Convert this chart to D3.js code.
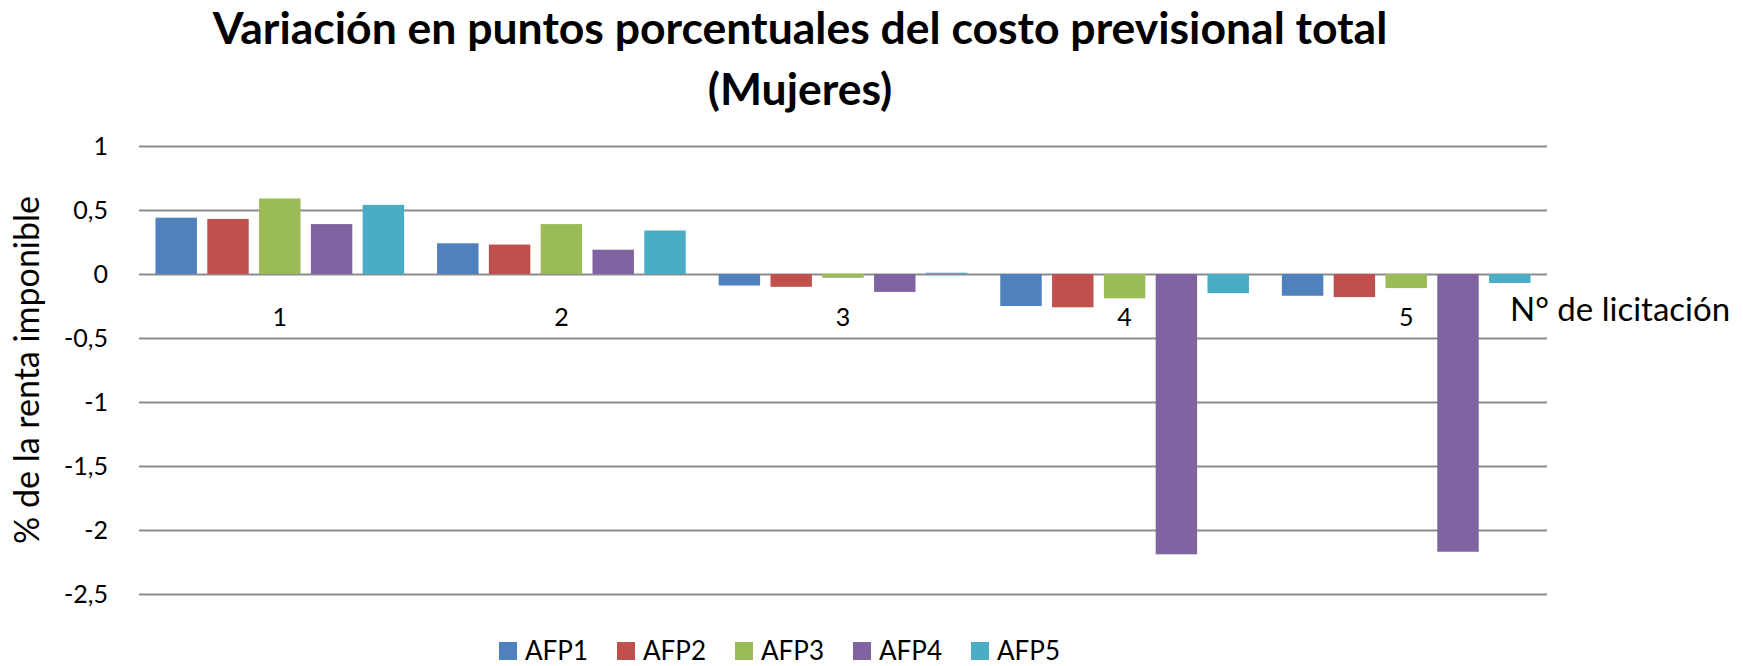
<!DOCTYPE html>
<html>
<head>
<meta charset="utf-8">
<script src="https://cdn.jsdelivr.net/npm/d3@7"></script>
<style>
	body { margin: 0; background: #fff; }
	text { font-family: Lato, "Open Sans", sans-serif; fill: #000; }
</style>
</head>
<body>
<div class="container"></div>
<script>
let categories = ['1', '2', '3', '4', '5'];
let seriesNames = ['AFP1', 'AFP2', 'AFP3', 'AFP4', 'AFP5'];
let afp1 = [0.44, 0.24, -0.09, -0.25, -0.17];
let afp2 = [0.43, 0.23, -0.10, -0.26, -0.18];
let afp3 = [0.59, 0.39, -0.03, -0.19, -0.11];
let afp4 = [0.39, 0.19, -0.14, -2.19, -2.17];
let afp5 = [0.54, 0.34, 0.01, -0.15, -0.07];
let yTicks = [1, 0.5, 0, -0.5, -1, -1.5, -2, -2.5];
let colors = ['#4F81BD', '#C0504D', '#9BBB59', '#8064A2', '#4BACC6'];

let series = [afp1, afp2, afp3, afp4, afp5];
let rows = [];
categories.forEach((c, i) => {
	seriesNames.forEach((s, j) => {
		rows.push({ cat: c, name: s, value: series[j][i] });
	});
});

let width = 1743,
		height = 666,
		margin = { top: 146, right: 196, bottom: 72, left: 139 };

let svg = d3.select('.container')
						.append('svg')
						.attr('width', width)
						.attr('height', height);

let x0 = d3.scaleBand()
						.domain(categories)
						.range([margin.left, width - margin.right])
						.paddingInner(0.117)
						.paddingOuter(0.0585);

let x1 = d3.scaleBand()
						.domain(seriesNames)
						.range([0, x0.bandwidth()])
						.paddingInner(0.2);

let yScale = d3.scaleLinear()
								.domain([-2.5, 1])
								.range([height - margin.bottom, margin.top]);

let cScale = d3.scaleOrdinal()
								.domain(seriesNames)
								.range(colors);

// gridlines + tick labels
let yAxis = d3.axisLeft(yScale)
							.tickValues(yTicks)
							.tickFormat(d => String(d).replace('.', ','))
							.tickSize(-(width - margin.left - margin.right));

svg
	.append('g')
	.attr('id', 'y-axis')
	.attr('transform', `translate(${margin.left}, 0)`)
	.call(yAxis)
	.call(g => g.select('.domain').remove())
	.call(g => g.selectAll('.tick line').attr('stroke', '#8c8c8c').attr('stroke-width', 2))
	.call(g => g.selectAll('.tick text').style('font-size', '25px').attr('x', -31));

svg
	.append('g')
	.selectAll('rect')
	.data(rows)
	.enter()
	.append('rect')
	.attr('x', d => x0(d.cat) + x1(d.name))
	.attr('y', d => yScale(Math.max(0, d.value)))
	.attr('width', x1.bandwidth())
	.attr('height', d => Math.abs(yScale(d.value) - yScale(0)))
	.attr('fill', d => cScale(d.name));

// category labels sit under the zero line
let xAxis = d3.axisBottom(x0).tickSize(0);

svg
	.append('g')
	.attr('id', 'x-axis')
	.attr('transform', `translate(0, ${yScale(0)})`)
	.call(xAxis)
	.call(g => g.select('.domain').remove())
	.call(g => g.selectAll('.tick text')
		.attr('y', 52)
		.attr('dy', 0)
		.style('font-size', '25px'));

svg
	.append('text')
	.attr('x', 1510)
	.attr('y', 321)
	.style('font-size', '33px')
	.text('N° de licitación');

svg
	.append('text')
	.attr('transform', `translate(39, ${(yScale(1) + yScale(-2.5)) / 2}) rotate(-90)`)
	.style('text-anchor', 'middle')
	.style('font-size', '34px')
	.text('% de la renta imponible');

svg
	.append('text')
	.attr('id', 'title')
	.attr('x', 800)
	.attr('y', 44)
	.style('font-size', '44.5px')
	.style('font-weight', 'bold')
	.style('text-anchor', 'middle')
	.text('Variación en puntos porcentuales del costo previsional total');

svg
	.append('text')
	.attr('x', 800)
	.attr('y', 105)
	.style('font-size', '44.5px')
	.style('font-weight', 'bold')
	.style('text-anchor', 'middle')
	.text('(Mujeres)');

let legend = svg
	.append('g')
	.selectAll('g')
	.data(seriesNames)
	.enter()
	.append('g')
	.attr('transform', (d, i) => `translate(${499 + i * 118}, 642)`);

legend
	.append('rect')
	.attr('width', 18)
	.attr('height', 18)
	.attr('fill', d => cScale(d));

legend
	.append('text')
	.attr('x', 26)
	.attr('y', 18)
	.style('font-size', '26px')
	.text(d => d);
</script>
</body>
</html>
